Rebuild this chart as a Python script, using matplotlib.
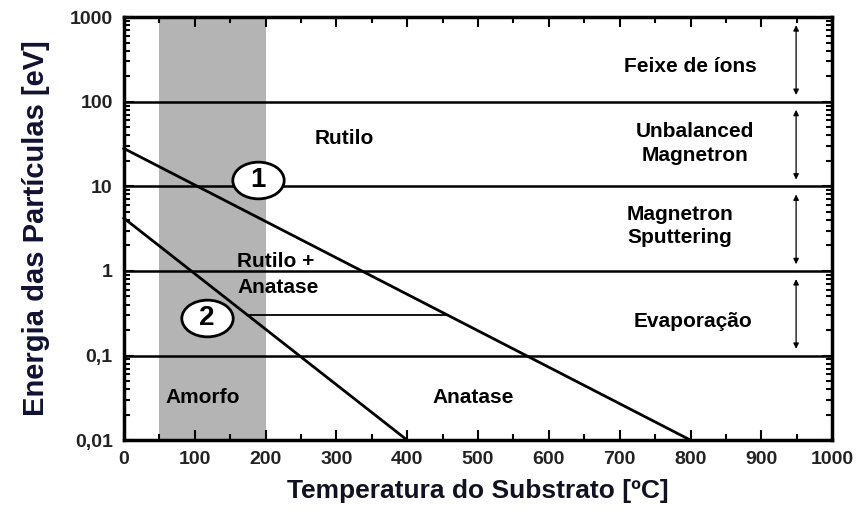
import matplotlib
matplotlib.use("Agg")
import matplotlib.pyplot as plt
import numpy as np
from matplotlib.path import Path
from matplotlib.ticker import FixedLocator, NullFormatter, LogLocator

plt.rcParams['font.family'] = ['Liberation Sans', 'DejaVu Sans']

# --- data ---
x_lim = [0, 1000]
y_lim = [0.01, 1000]
x_ticks = [0, 100, 200, 300, 400, 500, 600, 700, 800, 900, 1000]
y_ticks = [0.01, 0.1, 1, 10, 100, 1000]
y_tick_labels = ["0,01", "0,1", "1", "10", "100", "1000"]
amorph_band = [50, 200]
process_bounds = [0.1, 1, 10, 100]

line1_x = [0, 800]
line1_y = [28, 0.01]
line2_x = [0, 400]
line2_y = [4.2, 0.01]
tie_x = [174, 457]
tie_y = [0.3, 0.3]

phase_labels = ["Rutilo", "Rutilo +\nAnatase", "Amorfo", "Anatase"]
phase_x = [311, 160, 112, 493]
phase_y = [37, 0.9, 0.032, 0.032]
phase_ha = ["center", "left", "center", "center"]

process_labels = ["Feixe de íons", "Unbalanced\nMagnetron", "Magnetron\nSputtering", "Evaporação"]
process_x = [800, 806, 785, 804]
process_y = [260, 32, 3.4, 0.25]
arrow_x = 949
arrow_spans = [(120, 800), (12, 80), (1.2, 8), (0.12, 0.8)]

circle_labels = ["1", "2"]
circle_x = [190, 117]
circle_y = [11.8, 0.28]

# --- figure ---
fig = plt.figure(figsize=(8.66, 5.16), dpi=100)
ax = fig.add_axes([0.143, 0.147, 0.818, 0.820])
ax.set_yscale("log")
ax.set_xlim(x_lim)
ax.set_ylim(y_lim)

ax.axvspan(amorph_band[0], amorph_band[1], color="#b4b4b4", lw=0, zorder=0)
for b in process_bounds:
    ax.axhline(b, color="black", lw=1.8, zorder=2)

ax.plot(line1_x, line1_y, color="black", lw=2, zorder=3, clip_on=False)
ax.plot(line2_x, line2_y, color="black", lw=2, zorder=3, clip_on=False)
ax.plot(tie_x, tie_y, color="black", lw=1.3, zorder=3)

for t, x, y, ha in zip(phase_labels, phase_x, phase_y, phase_ha):
    ax.text(x, y, t, ha=ha, va="center", fontsize=15, fontweight="bold",
            linespacing=1.45, zorder=5)

for t, x, y in zip(process_labels, process_x, process_y):
    ax.text(x, y, t, ha="center", va="center", fontsize=15, fontweight="bold",
            linespacing=1.3, zorder=5)

for lo, hi in arrow_spans:
    ax.annotate("", xy=(arrow_x, hi), xytext=(arrow_x, lo),
                arrowprops=dict(arrowstyle="<|-|>", color="black", lw=0.9,
                                mutation_scale=8, shrinkA=0, shrinkB=0))

# wide ellipse marker for the numbered circles
circ = Path.unit_circle()
oval = Path(circ.vertices * np.array([1.4, 1.0]), circ.codes)
for t, x, y in zip(circle_labels, circle_x, circle_y):
    ax.plot([x], [y], marker=oval, ms=37, mfc="white", mec="black", mew=2,
            zorder=6, ls="none")
    ax.text(x, y, t, ha="center", va="center", fontsize=20, fontweight="bold",
            zorder=7)

# --- axes styling ---
ax.xaxis.set_major_locator(FixedLocator(x_ticks))
ax.xaxis.set_minor_locator(FixedLocator([v + 50 for v in x_ticks[:-1]]))
ax.set_yticks(y_ticks)
ax.set_yticklabels(y_tick_labels)
ax.yaxis.set_minor_locator(LogLocator(base=10, subs=range(2, 10), numticks=20))
ax.yaxis.set_minor_formatter(NullFormatter())
ax.tick_params(which="both", direction="in", top=True, right=True, width=1.5)
ax.tick_params(which="major", length=7, labelsize=14, pad=8)
ax.tick_params(which="minor", length=4)
for lab in ax.get_xticklabels() + ax.get_yticklabels():
    lab.set_fontweight("bold")
    lab.set_color("#222222")
for s in ax.spines.values():
    s.set_linewidth(2.5)

ax.set_xlabel("Temperatura do Substrato [ºC]", fontsize=19, fontweight="bold",
              color="#111122", labelpad=8)
ax.set_ylabel("Energia das Partículas [eV]", fontsize=21, fontweight="bold",
              color="#111133", labelpad=14)

fig.savefig("out.png", dpi=100)
